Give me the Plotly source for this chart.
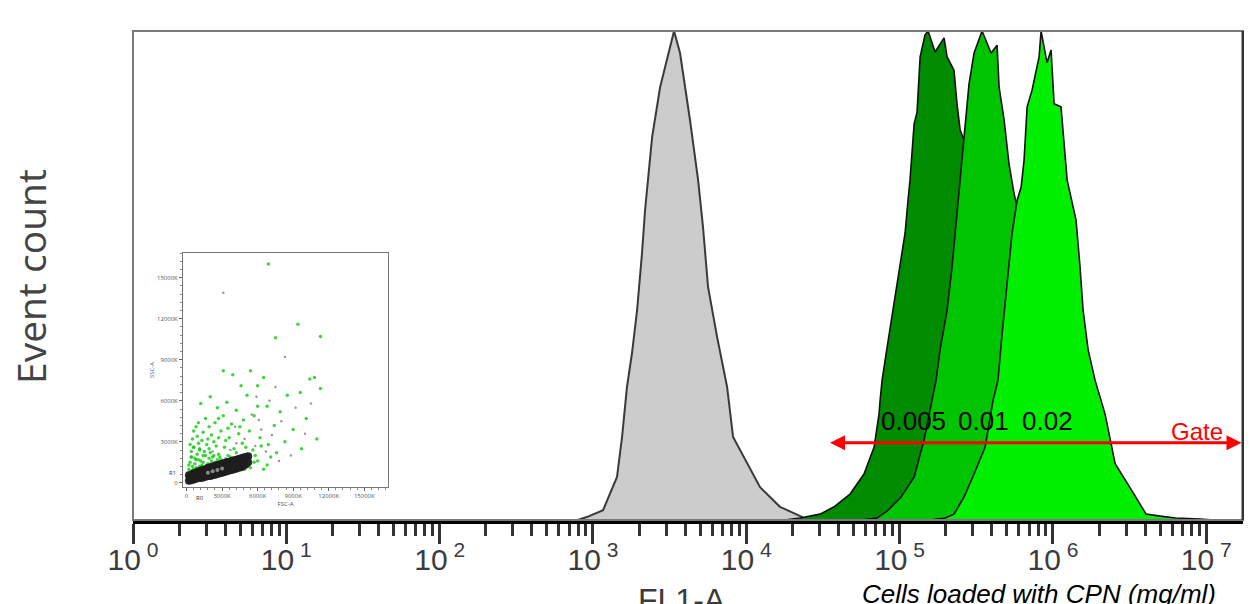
import plotly.graph_objects as go

# ---------------- data ----------------
# main histograms: x in log10(FL1-A), y = event count in % of modal bin
gray_log10 = [2.90, 2.96, 3.066, 3.157, 3.19, 3.222, 3.255, 3.288, 3.32, 3.34, 3.386, 3.438, 3.529,
              3.568, 3.633, 3.686, 3.718, 3.751, 3.81, 3.875, 3.914, 4.005, 4.09, 4.22, 4.305, 4.38, 4.45]
gray_count = [0, 0.6, 2.0, 8.8, 17, 27.2, 34.2, 42.9, 54.6, 63.4, 78.3, 88.5, 100,
              95.5, 81.8, 69.5, 59.9, 47.6, 37.4, 27.2, 17, 11.7, 6.7, 2.7, 1.4, 0.4, 0]

dark_log10 = [4.25, 4.351, 4.481, 4.573, 4.677, 4.768, 4.834, 4.866, 4.873, 4.886, 4.916, 4.958, 5.003,
              5.036, 5.055, 5.068, 5.095, 5.114, 5.134, 5.166, 5.186, 5.232, 5.290, 5.31, 5.355, 5.375,
              5.395, 5.42, 5.50, 5.56, 5.65, 5.78, 5.95, 6.1]
dark_count = [0, 0.4, 1.2, 2.7, 5.3, 9.4, 14.9, 21.7, 24.5, 28.6, 34.8, 42.9, 51.7,
              58.7, 65.4, 69.5, 81.0, 83.4, 94.7, 99.2, 100, 95.7, 98.6, 94.7, 92, 85,
              79.8, 77.7, 62, 50, 30, 12, 2, 0]

med_log10 = [4.75, 4.853, 4.918, 5.01, 5.095, 5.16, 5.212, 5.238, 5.264, 5.31, 5.342, 5.362, 5.382,
             5.388, 5.42, 5.453, 5.486, 5.538, 5.597, 5.636, 5.649, 5.682, 5.714, 5.747, 5.767,
             5.82, 5.92, 6.02, 6.12, 6.25, 6.35]
med_count = [0, 0.4, 1.8, 4.7, 8.8, 16.4, 24.5, 28.6, 34.8, 42.9, 51.7, 58.7, 65.4,
             68.1, 78.3, 89.2, 95.5, 100, 95.5, 97.1, 88.5, 81.8, 72.8, 66.7, 64.0,
             50, 30, 15, 5, 1, 0]

bright_log10 = [5.2, 5.297, 5.355, 5.42, 5.486, 5.558, 5.61, 5.642, 5.669, 5.701, 5.734, 5.767, 5.793,
                5.812, 5.832, 5.864, 5.91, 5.923, 5.962, 5.988, 6.008, 6.053, 6.073, 6.093, 6.132,
                6.151, 6.177, 6.197, 6.23, 6.275, 6.34, 6.406, 6.517, 6.608, 6.70, 6.80, 6.96, 7.05]
bright_count = [0, 0.4, 1.2, 4.7, 9.4, 14.9, 24.5, 28.6, 38.2, 48.5, 58.7, 65.4, 68.1,
                73.6, 84.5, 87.9, 94.7, 100, 93.5, 96.1, 85.1, 84.5, 76.3, 69.5, 64.0,
                61.3, 51.7, 42.9, 34.8, 28.6, 21.7, 11.5, 5.9, 1.2, 0.8, 0.4, 0.2, 0]

conc_labels = ["0.005", "0.01", "0.02"]
conc_label_log10 = [5.09, 5.545, 5.963]
tick_exponents = [0, 1, 2, 3, 4, 5, 6, 7]
tick_labels = ["10<sup> %d</sup>" % e for e in tick_exponents]
gate_from_log10 = 4.537
gate_to_log10 = 7.23
gate_level = 15.8

# inset scatter (FSC-A vs SSC-A, in thousands)
green_fsc = [6.9, 9.4, 7.5, 11.3, 3.1, 3.9, 5.4, 10.4, 10.8, 11.3, 6.5, 9.6, 8.5, 6.0, 4.6, 5.1, 11.0, 9.7,
             9.0, 10.1, 7.9, 7.4, 6.8, 6.0, 5.7,
             1.2, 2.0, 2.6, 3.4, 4.2, 1.6, 2.4, 3.1, 3.8, 4.8, 5.3, 0.8, 1.4, 2.1, 2.9, 3.6, 4.4, 6.2,
             6.9, 0.5, 1.0, 1.7, 2.5, 3.2, 4.0, 4.7, 5.6, 7.6, 8.3, 0.4, 0.9, 1.4, 2.0, 2.8, 3.5, 4.3,
             5.1, 6.0, 0.3, 0.7, 1.2, 1.8, 2.4, 3.0, 3.8, 4.6, 5.4, 6.5, 0.5, 1.0, 1.5, 0.3, 0.2,
             0.6, 1.1, 1.9, 2.2, 2.7, 0.4, 0.8, 1.3, 1.6, 3.3, 0.2, 0.9,
             0.3, 0.6, 1.1, 1.5, 2.3, 2.6, 3.1, 3.6, 4.0, 4.9, 0.4, 0.7, 1.0, 1.3, 1.7, 2.1, 2.9, 3.4,
             0.2, 0.5, 0.8, 1.1, 1.4, 1.9, 2.4, 3.7, 4.2, 0.9, 1.3, 1.8, 2.3, 2.7, 3.3, 0.6, 1.0, 1.9,
             2.7, 3.5, 4.5, 5.0, 5.8, 6.3, 7.1, 6.8, 5.7, 4.3, 4.9, 0.3, 0.6, 0.1]
green_ssc = [16.0, 11.6, 10.6, 10.7, 8.2, 7.9, 8.2, 7.6, 7.7, 6.9, 7.7, 6.6, 6.4, 7.1, 7.1, 6.4, 3.2, 2.5,
             3.9, 4.7, 5.2, 4.2, 5.6, 5.6, 4.9,
             5.8, 6.3, 5.5, 5.9, 5.3, 4.7, 4.4, 4.9, 4.3, 4.6, 3.8, 4.1, 3.7, 3.5, 3.8, 3.3, 3.6, 3.3,
             2.8, 3.2, 2.9, 2.8, 2.7, 2.6, 2.5, 2.9, 2.4, 2.2, 3.0, 2.3, 2.1, 2.0, 2.2, 1.9, 2.0, 1.8,
             1.7, 1.6, 1.5, 1.4, 1.6, 1.4, 1.5, 1.3, 1.3, 1.2, 1.1, 1.0, 0.9, 0.8, 1.0, 0.5, 1.0,
             2.6, 2.4, 2.5, 1.9, 2.1, 1.9, 1.7, 1.2, 2.0, 1.6, 0.7, 0.5,
             2.8, 2.6, 2.5, 2.3, 2.0, 1.7, 1.6, 1.6, 1.5, 1.4, 1.9, 1.8, 1.7, 1.3, 1.2, 1.6, 1.7, 1.4,
             1.3, 1.2, 1.1, 1.2, 1.5, 1.8, 1.2, 1.9, 2.2, 3.4, 3.1, 3.2, 3.0, 3.3, 3.1, 3.8, 4.4, 4.1,
             4.7, 4.0, 4.1, 2.6, 2.0, 2.7, 1.9, 1.3, 1.5, 0.9, 1.0, 0.8, 1.0, 0.7]
gray_fsc = [3.1, 8.3, 7.0, 5.5, 8.0, 6.3, 4.9, 7.2, 9.2, 10.5, 5.8, 4.2, 6.7, 3.7, 8.8, 7.8, 5.0, 3.3,
            2.2, 4.1, 6.1, 10.0, 7.5, 5.9]
gray_ssc = [13.9, 9.2, 6.0, 5.0, 4.5, 3.9, 3.2, 3.5, 5.5, 5.8, 2.7, 2.9, 2.3, 2.4, 2.0, 1.6, 2.1, 1.8,
            2.3, 4.1, 4.6, 3.6, 7.0, 6.3]
core_fsc = [0.2, 0.4, 0.6, 0.8, 1.0, 1.2, 1.4, 1.6, 1.8, 2.0, 2.2, 2.4, 2.6, 2.8, 3.0, 3.2, 3.4,
            3.6, 3.8, 4.0, 4.2, 4.4, 4.6, 4.8, 5.0, 5.2,
            0.2, 0.4, 0.6, 0.8, 1.0, 1.2, 1.4, 1.6, 1.8, 2.0, 2.2, 2.4, 2.6, 2.8, 3.0, 3.2, 3.4,
            3.6, 3.8, 4.0, 4.2, 4.4, 4.6, 4.8, 5.0, 5.2,
            0.3, 0.7, 1.1, 1.5, 1.9, 2.3, 2.7, 3.1, 3.5, 3.9, 4.3, 4.7]
core_ssc = [0.55, 0.6, 0.7, 0.75, 0.85, 0.9, 0.95, 1.0, 1.1, 1.15, 1.2, 1.25, 1.3, 1.35, 1.4, 1.45, 1.5,
            1.55, 1.6, 1.65, 1.7, 1.75, 1.8, 1.85, 1.9, 1.95,
            0.15, 0.2, 0.25, 0.3, 0.35, 0.35, 0.4, 0.45, 0.5, 0.5, 0.55, 0.6, 0.65, 0.7, 0.75, 0.8, 0.85,
            0.9, 0.95, 1.0, 1.05, 1.1, 1.15, 1.25, 1.35, 1.5,
            0.35, 0.45, 0.6, 0.7, 0.8, 0.85, 0.95, 1.05, 1.15, 1.25, 1.35, 1.5]
center_fsc = [1.8, 2.2, 2.6, 3.0]
center_ssc = [0.75, 0.85, 0.95, 1.05]
inset_ticks = [0, 3, 6, 9, 12, 15]
inset_ticklabels = ["0", "3000K", "6000K", "9000K", "12000K", "15000K"]

# ---------------- figure ----------------
# the page puts the figure 8 px from the top-left corner of the window;
# all positions below are expressed in window pixels
OFF = 8
W, H = 1244, 596
L, R, T, B = 125, 9, 23, 84
PL, PB = OFF + L, OFF + H - B          # plot left / bottom in window pixels (133, 520)
pw, ph = W - L - R, H - T - B


def px(xp):
    return (xp - PL) / pw


def py(yp):
    return (PB - yp) / ph


fig = go.Figure()

hist = [
    (gray_log10, gray_count, "#cccccc", "#3a3a3a", 2.0),
    (dark_log10, dark_count, "#008c00", "#111111", 1.6),
    (med_log10, med_count, "#00c400", "#111111", 1.6),
    (bright_log10, bright_count, "#00f000", "#111111", 1.6),
]
for lx, cnt, fc, lc, lw in hist:
    fig.add_trace(go.Scatter(
        x=[10 ** v for v in lx], y=cnt, mode="lines", fill="tozeroy",
        fillcolor=fc, line=dict(color=lc, width=lw), xaxis="x", yaxis="y",
        showlegend=False, hoverinfo="skip"))

# inset scatter
fig.add_trace(go.Scatter(x=green_fsc, y=green_ssc, mode="markers", xaxis="x2", yaxis="y2",
                         marker=dict(size=3.5, color="rgba(20,200,20,0.8)"), showlegend=False))
fig.add_trace(go.Scatter(x=gray_fsc, y=gray_ssc, mode="markers", xaxis="x2", yaxis="y2",
                         marker=dict(size=2.5, color="rgba(110,110,110,0.7)"), showlegend=False))
fig.add_trace(go.Scatter(x=core_fsc, y=core_ssc, mode="markers", xaxis="x2", yaxis="y2",
                         marker=dict(size=8, color="rgba(30,30,30,0.95)"), showlegend=False))
fig.add_trace(go.Scatter(x=center_fsc, y=center_ssc, mode="markers", xaxis="x2", yaxis="y2",
                         marker=dict(size=4, color="rgba(150,150,150,0.9)"), showlegend=False))

minor_vals = [d * 10 ** k for k in range(0, 8) for d in range(2, 10) if d * 10 ** k < 10 ** 7.24]

tickfont = dict(family="Liberation Sans, Arial, sans-serif", size=30, color="#3c3c3c")
small = dict(size=6, color="#555")

fig.update_layout(
    width=W, height=H,
    margin=dict(l=L, r=R, t=T, b=B, autoexpand=False),
    paper_bgcolor="white", plot_bgcolor="white",
    showlegend=False,
    xaxis=dict(type="log", range=[0, 7.24], tickmode="array", automargin=False,
               tickvals=[10 ** e for e in tick_exponents], ticktext=tick_labels,
               ticks="outside", ticklen=20, tickwidth=2.5, tickcolor="#333333",
               tickfont=tickfont, ticklabelstandoff=-10,
               minor=dict(tickmode="array", tickvals=minor_vals, ticks="outside",
                          ticklen=12, tickwidth=2.5, tickcolor="#333333", showgrid=False),
               showline=True, linecolor="black", linewidth=4, showgrid=False, zeroline=False),
    yaxis=dict(range=[0, 100], showticklabels=False, ticks="", showgrid=False, automargin=False,
               zeroline=False, showline=False),
    xaxis2=dict(domain=[px(183), px(388)], anchor="y2", range=[-0.3, 17.0], automargin=False,
                tickmode="array", tickvals=inset_ticks, ticktext=inset_ticklabels,
                ticks="outside", ticklen=3, tickwidth=1, tickcolor="#666",
                minor=dict(dtick=0.6, ticks="outside", ticklen=2, tickcolor="#888"),
                tickfont=small, showline=True, mirror=True,
                linecolor="#777", linewidth=1, showgrid=False, zeroline=False,
                title=dict(text="FSC-A", font=small, standoff=1)),
    yaxis2=dict(domain=[py(487), py(253)], anchor="x2", range=[-0.3, 16.8], automargin=False,
                tickmode="array", tickvals=inset_ticks, ticktext=inset_ticklabels,
                ticks="outside", ticklen=3, tickwidth=1, tickcolor="#666",
                minor=dict(dtick=0.6, ticks="outside", ticklen=2, tickcolor="#888"),
                tickfont=small, showline=True, mirror=True,
                linecolor="#777", linewidth=1, showgrid=False, zeroline=False,
                title=dict(text="SSC-A", font=small, standoff=1)),
)

# frame
fig.add_shape(type="rect", xref="paper", yref="paper", x0=0, x1=1, y0=0, y1=1,
              line=dict(color="#7a7a7a", width=2), layer="above")
fig.add_shape(type="line", xref="paper", yref="paper", x0=1, x1=1, y0=0, y1=1,
              line=dict(color="#333333", width=3), layer="above")

annotations = []
annotations.append(dict(xref="paper", yref="paper", x=px(30), y=py(277), xanchor="center",
                        yanchor="middle", text="Event count", textangle=-90, showarrow=False,
                        font=dict(family="Open Sans", size=39, color="#444444")))
annotations.append(dict(xref="paper", yref="paper", x=px(682), y=py(580), xanchor="center",
                        yanchor="top", text="FL1-A", showarrow=False,
                        font=dict(family="Liberation Sans, Arial", size=32, color="#3c3c3c")))
annotations.append(dict(xref="paper", yref="paper", x=px(1039), y=py(577), xanchor="center",
                        yanchor="top", text="<i>Cells loaded with CPN (mg/ml)</i>", showarrow=False,
                        font=dict(family="Liberation Sans, Arial", size=26, color="black")))
for lab, lx in zip(conc_labels, conc_label_log10):
    annotations.append(dict(xref="x", yref="paper", x=lx, y=py(421), xanchor="center",
                            yanchor="middle", text=lab, showarrow=False,
                            font=dict(family="Liberation Sans, Arial", size=26, color="black")))
annotations.append(dict(xref="x", yref="y", x=gate_to_log10, y=gate_level,
                        axref="x", ayref="y", ax=gate_from_log10, ay=gate_level,
                        text="", showarrow=True, arrowside="end+start", arrowhead=2,
                        arrowsize=1.0, arrowwidth=3, arrowcolor="#ff0000", standoff=0,
                        startstandoff=0))
annotations.append(dict(xref="paper", yref="paper", x=px(1225), y=py(431), xanchor="right",
                        yanchor="middle", text="Gate", showarrow=False,
                        font=dict(family="Liberation Sans, Arial", size=24, color="#ff0000")))
annotations.append(dict(xref="paper", yref="paper", x=px(172), y=py(473), xanchor="center",
                        yanchor="middle", text="R1", showarrow=False, font=dict(size=6, color="#333")))
annotations.append(dict(xref="paper", yref="paper", x=px(200), y=py(498), xanchor="center",
                        yanchor="middle", text="R0", showarrow=False, font=dict(size=6, color="#333")))
fig.update_layout(annotations=annotations)

fig.write_html("out.html")
